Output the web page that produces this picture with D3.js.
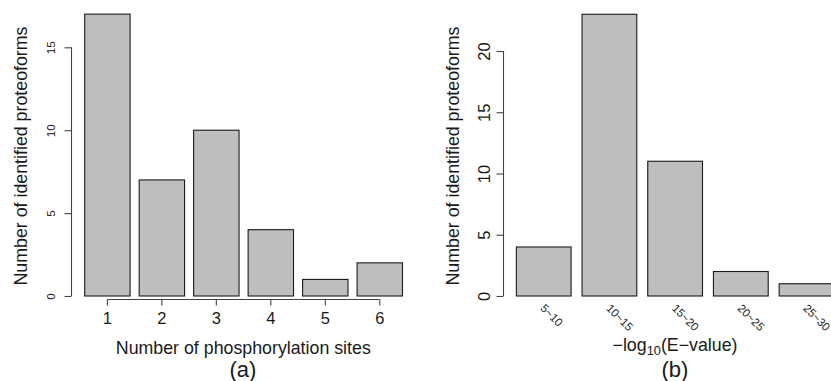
<!DOCTYPE html>
<html>
<head>
<meta charset="utf-8">
<script src="https://cdn.jsdelivr.net/npm/d3@7"></script>
<style>
  html, body { margin: 0; padding: 0; background: #fff; }
  svg { display: block; font-family: "Liberation Sans", Arial, Helvetica, sans-serif; }
</style>
</head>
<body>
<svg id="chart" width="831" height="381"></svg>
<script>
// Panel (a): proteoforms by number of phosphorylation sites
const sitesCats = ["1", "2", "3", "4", "5", "6"];
const sitesCounts = [17, 7, 10, 4, 1, 2];
const sitesTicks = [0, 5, 10, 15];

// Panel (b): proteoforms by -log10(E-value) bin
const evalueCats = ["5~10", "10~15", "15~20", "20~25", "25~30"];
const evalueCounts = [4, 23, 11, 2, 1];
const evalueTicks = [0, 5, 10, 15, 20];

const svg = d3.select("#chart");
const BAR_FILL = "#bebebe";
const INK = "#1a1a1a";
const FONT = '"Liberation Sans", Arial, Helvetica, sans-serif';

// band scale laid out like base-R barplot: width 1, space 0.2 before each bar
function barScale(cats, left, unit) {
  const total = 1.2 * (cats.length - 1 / 6 + 2 / 6) * unit;
  return d3.scaleBand().domain(cats).range([left, left + total])
    .paddingInner(1 / 6).paddingOuter(1 / 6);
}

function drawBars(g, cats, vals, x, y) {
  g.selectAll("rect.bar").data(cats.map((c, i) => ({ c, v: vals[i] })))
    .join("rect").attr("class", "bar")
    .attr("x", d => x(d.c))
    .attr("width", x.bandwidth())
    .attr("y", d => y(d.v))
    .attr("height", d => y(0) - y(d.v))
    .attr("fill", BAR_FILL)
    .attr("stroke", INK)
    .attr("stroke-width", 1.1);
}

function drawYAxis(g, y, ticks, xPos, labelGap, fontSize) {
  const ax = g.append("g").attr("transform", `translate(${xPos},0)`)
    .call(d3.axisLeft(y).tickValues(ticks).tickSize(7).tickSizeOuter(0).tickFormat(d3.format("d")))
    .attr("font-family", FONT).attr("font-size", fontSize);
  ax.select(".domain").attr("d", `M0,${y(ticks[0])}V${y(ticks[ticks.length - 1])}`)
    .attr("stroke", "#444").attr("stroke-width", 1.1);
  ax.selectAll(".tick line").attr("stroke", "#444").attr("stroke-width", 1.1);
  ax.selectAll(".tick text")
    .attr("x", null).attr("dy", null)
    .attr("transform", `translate(${-labelGap},0) rotate(-90)`)
    .attr("text-anchor", "middle")
    .attr("fill", INK);
}

function yTitle(xBase, yMid, text) {
  svg.append("text")
    .attr("transform", `translate(${xBase},${yMid}) rotate(-90)`)
    .attr("text-anchor", "middle")
    .attr("fill", INK)
    .style("font-size", "17.8px")
    .text(text);
}

// ---------- panel (a) ----------
const gA = svg.append("g");
const xA = barScale(sitesCats, 75.6, 45.4);
const yA = d3.scaleLinear().domain([0, 15]).range([296, 47.3]);
drawBars(gA, sitesCats, sitesCounts, xA, yA);
drawYAxis(gA, yA, sitesTicks, 71.5, 16.5, 11.6);

const xAxisA = gA.append("g").attr("transform", "translate(0,299.5)")
  .call(d3.axisBottom(xA).tickSize(6).tickSizeOuter(0))
  .attr("font-family", FONT).attr("font-size", 16.5);
const firstC = xA(sitesCats[0]) + xA.bandwidth() / 2;
const lastC = xA(sitesCats[sitesCats.length - 1]) + xA.bandwidth() / 2;
xAxisA.select(".domain").attr("d", `M${firstC},0H${lastC}`).attr("stroke", "#444").attr("stroke-width", 1.1);
xAxisA.selectAll(".tick line").attr("stroke", "#444").attr("stroke-width", 1.1);
xAxisA.selectAll(".tick text")
  .attr("y", 24.5).attr("dy", null)
  .attr("fill", INK);

yTitle(27, 156, "Number of identified proteoforms");
svg.append("text").attr("x", 243.3).attr("y", 354.3).attr("text-anchor", "middle")
  .attr("fill", INK).style("font-size", "17.8px").text("Number of phosphorylation sites");
svg.append("text").attr("x", 243).attr("y", 377).attr("text-anchor", "middle")
  .attr("fill", INK).style("font-size", "22px").text("(a)");

// ---------- panel (b) ----------
const gB = svg.append("g");
const xB = barScale(evalueCats, 505.4, 54.75);
const yB = d3.scaleLinear().domain([0, 20]).range([296, 51]);
drawBars(gB, evalueCats, evalueCounts, xB, yB);
drawYAxis(gB, yB, evalueTicks, 503.5, 13.5, 16.5);

// slanted category labels under each bar
gB.selectAll("text.cat").data(evalueCats).join("text").attr("class", "cat")
  .attr("transform", d => `translate(${xB(d) + xB.bandwidth() / 2 - 4},309) rotate(45)`)
  .attr("text-anchor", "start")
  .attr("fill", INK)
  .style("font-size", "11.5px")
  .text(d => d);

yTitle(458.5, 156, "Number of identified proteoforms");

const tB = svg.append("text").attr("x", 675).attr("y", 350.5).attr("text-anchor", "middle")
  .attr("fill", INK).style("font-size", "17.8px");
tB.append("tspan").text("\u2212log");
tB.append("tspan").attr("dy", 4.3).style("font-size", "12.8px").text("10");
tB.append("tspan").attr("dy", -4.3).text("(E\u2212value)");
svg.append("text").attr("x", 675).attr("y", 377).attr("text-anchor", "middle")
  .attr("fill", INK).style("font-size", "22px").text("(b)");
</script>
</body>
</html>
